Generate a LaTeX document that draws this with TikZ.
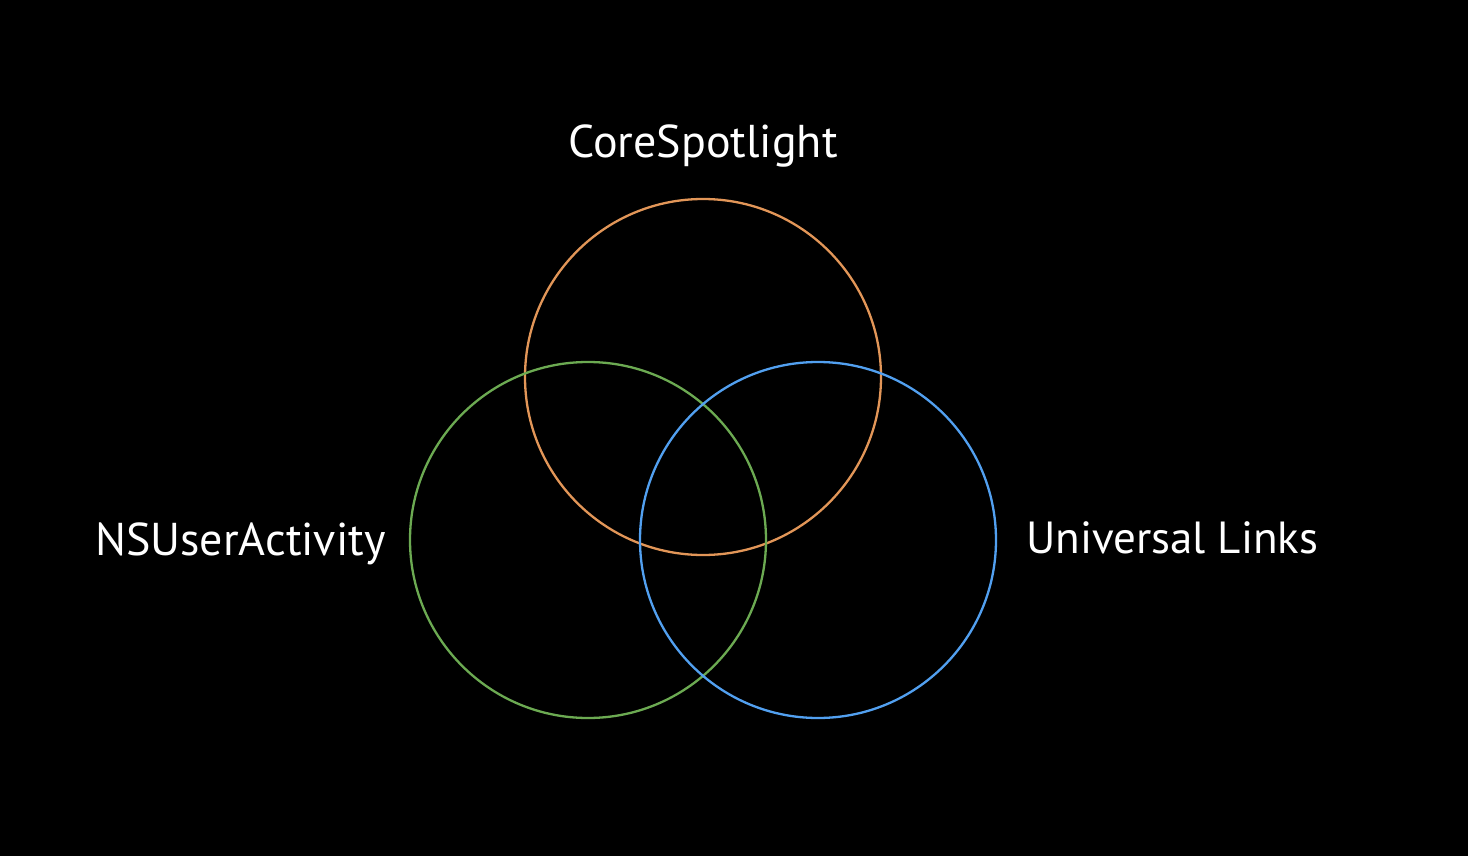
\documentclass[tikz,border=0pt]{standalone}
\usepackage{fontspec}
\setmainfont{PT Sans}
\definecolor{corange}{RGB}{226,150,88}
\definecolor{cgreen}{RGB}{108,170,82}
\definecolor{cblue}{RGB}{82,160,240}
\begin{document}
\begin{tikzpicture}[x=1pt,y=-1pt,
  ring/.style={line width=2.3pt},
  lbl/.style={text=white,font=\fontsize{46}{52}\selectfont,inner sep=0pt}]
\fill[black] (0,0) rectangle (1468,856);
\useasboundingbox (0,0) rectangle (1468,856);
\draw[ring,corange] (703,377) circle[radius=178];
\draw[ring,cgreen] (588,540) circle[radius=178];
\draw[ring,cblue] (818,540) circle[radius=178];
\node[lbl,anchor=base] (cs) at (703,158) {CoreSpotlight};
\node[lbl,anchor=base west] (ns) at (95,555) {NSUserActivity};
\node[lbl,anchor=base west,font=\fontsize{45}{52}\selectfont] (ul) at (1026,553) {Universal Links};
\end{tikzpicture}
\end{document}
